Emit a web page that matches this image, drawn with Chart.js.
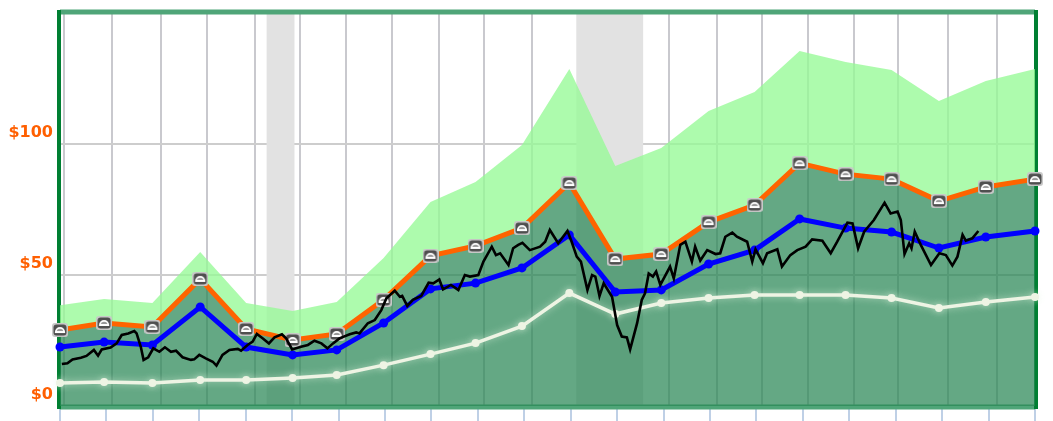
<!DOCTYPE html>
<html>
<head>
<meta charset="utf-8">
<title>Price chart</title>
<script src="https://cdn.jsdelivr.net/npm/chart.js@4/dist/chart.umd.min.js"></script>
<style>
  html, body { margin: 0; padding: 0; background: #fff; overflow: hidden; }
  #wrap { width: 1053px; height: 421px; }
  canvas { display: block; filter: blur(0.7px); }
</style>
</head>
<body>
<div id="wrap"><canvas id="chart" width="1053" height="421"></canvas></div>
<script>
// x is in fiscal periods from the first period on the chart
const periods = [0, 0.95, 1.99, 3.02, 4.01, 5.01, 5.96, 6.97, 7.98, 8.95, 9.95, 10.97, 11.96, 12.95, 13.97, 14.96, 15.93, 16.92, 17.91, 18.93, 19.94, 21];
const upperValues = [38.5, 40.8, 39.3, 58.8, 39.3, 36.3, 39.7, 56.5, 77.9, 85.5, 99.6, 128.6, 91.6, 98.5, 112.6, 119.8, 135.5, 131.3, 128.2, 116.4, 124, 128.6];
const orangeValues = [29, 31.7, 30.2, 48.5, 29.4, 25.2, 27.5, 40.5, 57.3, 61.1, 67.9, 85.1, 56.1, 58, 70.2, 76.7, 92.7, 88.5, 86.6, 78.2, 83.6, 86.6];
const blueValues = [22.5, 24.4, 23.3, 37.8, 22.5, 19.5, 21.4, 31.7, 44.7, 46.9, 52.7, 65.3, 43.5, 44.3, 54.2, 59.5, 71.4, 67.9, 66.4, 60.3, 64.5, 66.8];
const whiteValues = [8.8, 9.2, 8.8, 9.9, 9.9, 10.7, 11.8, 15.6, 19.8, 24, 30.5, 43.1, 35.1, 39.3, 41.2, 42.4, 42.4, 42.4, 41.2, 37.4, 39.7, 41.6];

const priceX = [0.04, 0.16, 0.27, 0.45, 0.57, 0.73, 0.82, 0.90, 1.09, 1.22, 1.33, 1.47, 1.60, 1.65, 1.74, 1.80, 1.90, 2.01, 2.14, 2.26, 2.39, 2.50, 2.64, 2.82, 2.89, 3.00, 3.14, 3.29, 3.37, 3.50, 3.65, 3.83, 3.90, 4.04, 4.15, 4.24, 4.37, 4.50, 4.62, 4.78, 4.87, 5.00, 5.19, 5.34, 5.48, 5.63, 5.76, 5.88, 6.02, 6.24, 6.38, 6.45, 6.63, 6.78, 6.92, 7.03, 7.21, 7.32, 7.37, 7.48, 7.60, 7.78, 7.94, 8.04, 8.17, 8.25, 8.42, 8.58, 8.72, 8.83, 9.01, 9.12, 9.30, 9.39, 9.48, 9.66, 9.76, 9.87, 9.96, 10.12, 10.34, 10.45, 10.55, 10.73, 10.93, 11.02, 11.13, 11.22, 11.36, 11.46, 11.53, 11.62, 11.71, 11.89, 12.00, 12.10, 12.21, 12.28, 12.43, 12.53, 12.60, 12.68, 12.77, 12.84, 12.93, 13.14, 13.22, 13.36, 13.47, 13.61, 13.68, 13.79, 13.94, 14.12, 14.22, 14.33, 14.48, 14.58, 14.80, 14.91, 14.98, 15.14, 15.23, 15.45, 15.55, 15.73, 15.88, 16.06, 16.20, 16.42, 16.60, 16.74, 16.96, 17.07, 17.19, 17.32, 17.53, 17.76, 17.89, 18.04, 18.11, 18.19, 18.29, 18.34, 18.41, 18.54, 18.76, 18.94, 19.08, 19.22, 19.33, 19.44, 19.51, 19.65, 19.78];
const priceValues = [16.0, 16.3, 17.8, 18.4, 19.1, 21.4, 19.2, 21.6, 22.3, 23.9, 27.1, 27.7, 28.6, 27.7, 22.6, 17.6, 18.6, 22.0, 20.7, 22.4, 20.7, 21.1, 18.6, 17.6, 17.8, 19.5, 18.2, 16.9, 15.4, 19.5, 21.4, 21.8, 21.1, 23.3, 24.6, 27.5, 25.8, 23.9, 26.2, 27.4, 25.8, 21.6, 22.6, 23.3, 24.9, 23.9, 22.0, 23.9, 25.8, 27.4, 28.1, 27.7, 31.6, 32.8, 36.6, 41.1, 44.0, 41.7, 42.0, 38.2, 40.5, 42.0, 47.1, 46.8, 48.3, 44.5, 46.2, 44.3, 50.0, 49.4, 50.0, 55.1, 60.8, 57.6, 58.3, 53.8, 60.2, 61.5, 62.3, 59.5, 60.8, 62.7, 67.2, 62.1, 66.8, 62.7, 57.0, 55.1, 44.3, 50.0, 49.4, 42.0, 46.8, 41.7, 30.9, 26.5, 26.2, 21.6, 31.6, 40.5, 43.0, 50.6, 49.4, 51.3, 46.2, 53.2, 48.7, 61.5, 62.7, 55.1, 60.8, 55.5, 59.5, 58.0, 58.3, 64.6, 66.2, 64.6, 62.7, 55.1, 59.8, 54.5, 58.3, 59.8, 53.2, 57.6, 59.5, 60.8, 63.6, 63.1, 58.3, 62.7, 70.0, 69.7, 60.2, 66.5, 71.0, 77.6, 73.5, 74.2, 71.0, 58.0, 62.1, 60.2, 66.5, 61.5, 53.8, 58.3, 57.6, 53.6, 57.0, 65.3, 63.1, 64.0, 66.8];

const gridTicks = [0.09, 1.12, 2.18, 3.17, 4.21, 5.16, 6.15, 7.15, 8.16, 9.13, 10.17, 11.16, 12.09, 13.12, 14.16, 15.13, 16.12, 17.11, 18.04, 19.13, 20.19];
const recessions = [[4.45, 5.05], [11.12, 12.56]];

function toPoints(xs, ys) {
    return ys.map((y, i) => ({ x: xs[i], y: y }));
}

// little grey badge used as the marker on the orange line
function makeBadge() {
    const c = document.createElement("canvas");
    c.width = 16;
    c.height = 14;
    const g = c.getContext("2d");
    g.fillStyle = "#c8c8c8";
    g.beginPath();
    g.roundRect(0, 0, 16, 14, 3);
    g.fill();
    g.fillStyle = "#4f4f4f";
    g.beginPath();
    g.roundRect(1.5, 1.5, 13, 11, 3);
    g.fill();
    g.fillStyle = "#999";
    g.strokeStyle = "#fff";
    g.lineWidth = 1.8;
    g.beginPath();
    g.arc(8, 9, 4.2, Math.PI, 0);
    g.closePath();
    g.fill();
    g.stroke();
    return c;
}

const chartDecor = {
    id: "chartDecor",
    // bands and frame go under the datasets so the edge markers sit on top
    beforeDatasetsDraw(chart) {
        const { ctx, chartArea, scales } = chart;
        ctx.save();
        ctx.fillStyle = "#e2e2e2";
        recessions.forEach(r => {
            const a = scales.x.getPixelForValue(r[0]);
            const b = scales.x.getPixelForValue(r[1]);
            ctx.fillRect(a, chartArea.top, b - a, chartArea.bottom - chartArea.top);
        });
        ctx.strokeStyle = "#4fa578";
        ctx.lineWidth = 5;
        ctx.beginPath();
        ctx.moveTo(chartArea.left, chartArea.top - 1);
        ctx.lineTo(chartArea.right, chartArea.top - 1);
        ctx.moveTo(chartArea.left, chartArea.bottom + 1);
        ctx.lineTo(chartArea.right, chartArea.bottom + 1);
        ctx.stroke();
        ctx.strokeStyle = "#007f32";
        ctx.lineWidth = 4;
        ctx.beginPath();
        ctx.moveTo(chartArea.left - 1, chartArea.top - 3);
        ctx.lineTo(chartArea.left - 1, chartArea.bottom + 3);
        ctx.moveTo(chartArea.right + 1, chartArea.top - 3);
        ctx.lineTo(chartArea.right + 1, chartArea.bottom + 3);
        ctx.stroke();
        ctx.restore();
    },
    beforeDatasetDraw(chart, args) {
        if (chart.data.datasets[args.index].label === "low") {
            chart.ctx.save();
            chart.ctx.shadowColor = "rgba(225,245,225,0.6)";
            chart.ctx.shadowBlur = 7;
        }
    },
    afterDatasetDraw(chart, args) {
        if (chart.data.datasets[args.index].label === "low") {
            chart.ctx.restore();
        }
    }
};

const ctx = document.getElementById("chart").getContext("2d");
new Chart(ctx, {
    type: "line",
    plugins: [chartDecor],
    data: {
        datasets: [
            {
                label: "price",
                data: toPoints(priceX, priceValues),
                borderColor: "#000",
                borderWidth: 2.6,
                pointRadius: 0,
                order: 1
            },
            {
                label: "blue",
                data: toPoints(periods, blueValues),
                borderColor: "#0000ff",
                backgroundColor: "#0000ff",
                borderWidth: 5,
                pointRadius: 4.5,
                pointBorderWidth: 0,
                clip: false,
                order: 2
            },
            {
                label: "low",
                data: toPoints(periods, whiteValues),
                borderColor: "#eef4e4",
                backgroundColor: "#eef4e4",
                borderWidth: 3.5,
                pointRadius: 4,
                pointBorderWidth: 0,
                clip: false,
                order: 3
            },
            {
                label: "orange",
                data: toPoints(periods, orangeValues),
                borderColor: "#ff6400",
                backgroundColor: "rgba(40,135,85,0.72)",
                borderWidth: 5,
                pointStyle: makeBadge(),
                fill: "origin",
                clip: false,
                order: 4
            },
            {
                label: "upper",
                data: toPoints(periods, upperValues),
                borderWidth: 0,
                pointRadius: 0,
                backgroundColor: "rgba(150,250,150,0.78)",
                fill: 3,
                order: 5
            }
        ]
    },
    options: {
        responsive: false,
        animation: false,
        layout: { padding: { top: 13, right: 18, left: 0, bottom: 0 } },
        plugins: { legend: { display: false }, tooltip: { enabled: false } },
        elements: { line: { tension: 0 } },
        scales: {
            x: {
                type: "linear",
                min: 0,
                max: 21,
                border: { display: false },
                ticks: { stepSize: 1, display: false },
                grid: { drawOnChartArea: false, tickLength: 15, tickColor: "#bfd0e6", lineWidth: 2 },
                afterFit(scale) { scale.height = 15; }
            },
            gridX: {
                type: "linear",
                axis: "x",
                position: "bottom",
                min: 0,
                max: 21,
                border: { display: false },
                ticks: { display: false },
                grid: { color: "#c9c9ce", lineWidth: 2, drawTicks: false },
                afterBuildTicks(scale) { scale.ticks = gridTicks.map(v => ({ value: v })); },
                afterFit(scale) { scale.height = 0; }
            },
            y: {
                min: 0,
                max: 150,
                border: { display: false },
                ticks: {
                    stepSize: 50,
                    color: "#ff5f00",
                    padding: 7,
                    font: { family: "DejaVu Sans", weight: "bold", size: 16, lineHeight: "23px" },
                    callback: v => (v === 150 ? "" : ["$" + v, ""])
                },
                grid: { color: "#cdcdcd", lineWidth: 2, drawTicks: false },
                afterFit(scale) {
                    scale.width = 60;
                    scale.paddingTop = 0;
                    scale.paddingBottom = 0;
                }
            }
        }
    }
});
</script>
</body>
</html>
